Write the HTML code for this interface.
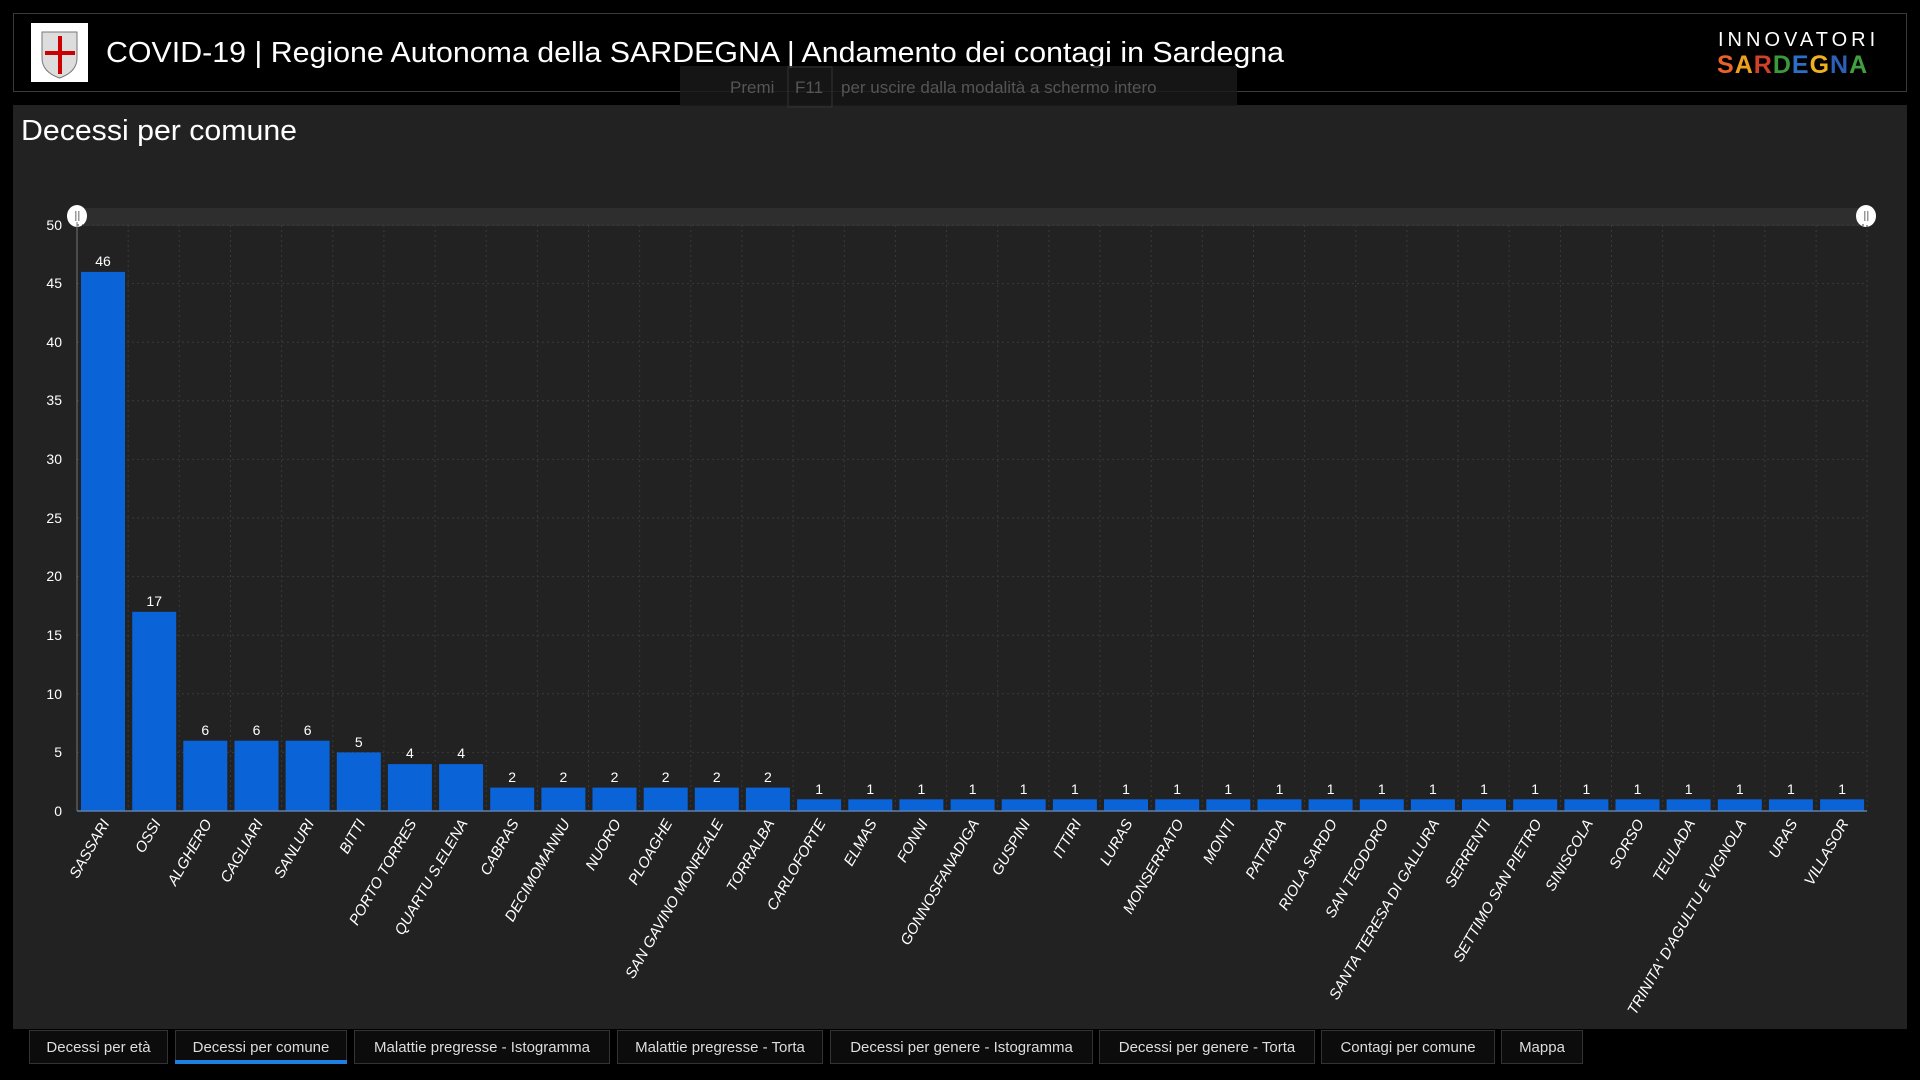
<!DOCTYPE html>
<html><head><meta charset="utf-8"><style>
html,body{margin:0;padding:0;background:#000;width:1920px;height:1080px;overflow:hidden;font-family:"Liberation Sans",sans-serif}
</style></head><body>
<svg width="1920" height="1080" viewBox="0 0 1920 1080" xmlns="http://www.w3.org/2000/svg" font-family="Liberation Sans, sans-serif">
<rect width="1920" height="1080" fill="#000"/>
<!-- header -->
<rect x="13.5" y="13.5" width="1893" height="78" fill="#000" stroke="#3a3a3a"/>
<rect x="31" y="23" width="57" height="59" fill="#fff"/>
<path d="M42 32 h35 v26 q0 14 -17.5 20 q-17.5 -6 -17.5 -20z" fill="#ddd" stroke="#777"/>
<rect x="58" y="36" width="4" height="38" fill="#c00"/><rect x="45" y="51" width="30" height="4" fill="#c00"/>
<text x="106" y="62" font-size="29" fill="#fff" textLength="1178" lengthAdjust="spacingAndGlyphs">COVID-19 | Regione Autonoma della SARDEGNA | Andamento dei contagi in Sardegna</text>
<text x="1718" y="46" font-size="20" fill="#fff" letter-spacing="4">INNOVATORI</text>
<text x="1717" y="73" font-size="25" font-weight="bold" letter-spacing="1"><tspan fill="#e8622a">S</tspan><tspan fill="#f0a020">A</tspan><tspan fill="#d0402a">R</tspan><tspan fill="#3a9a3a">D</tspan><tspan fill="#2a70c8">E</tspan><tspan fill="#f0b020">G</tspan><tspan fill="#2a60b8">N</tspan><tspan fill="#40a040">A</tspan></text>
<!-- panel -->
<rect x="13" y="105" width="1894" height="924" fill="#222"/>
<rect x="680" y="66" width="557" height="40" fill="#1a1a1a" opacity="0.8"/>
<rect x="788" y="67" width="44" height="40" fill="none" stroke="#333"/>
<text x="730" y="93" font-size="17" fill="#555">Premi</text><text x="795" y="93" font-size="17" fill="#555">F11</text><text x="841" y="93" font-size="17" fill="#555">per uscire dalla modalità a schermo intero</text>
<text x="21" y="140" font-size="29" fill="#fff" textLength="276" lengthAdjust="spacingAndGlyphs">Decessi per comune</text>
<!-- slider -->
<rect x="77" y="208" width="1790" height="18" fill="#2e2e2e"/>
<ellipse cx="77" cy="216" rx="10" ry="11" fill="#fff"/><rect x="75" y="211" width="1.5" height="10" fill="#999"/><rect x="78" y="211" width="1.5" height="10" fill="#999"/>
<ellipse cx="1866" cy="216" rx="10" ry="11" fill="#fff"/><rect x="1864" y="211" width="1.5" height="10" fill="#999"/><rect x="1867" y="211" width="1.5" height="10" fill="#999"/>
<!-- grid -->
<g stroke="#3a3a3a" stroke-width="1" stroke-dasharray="2,3">
<line x1="77" x2="1867" y1="225" y2="225"/><line x1="77" x2="1867" y1="283.6" y2="283.6"/><line x1="77" x2="1867" y1="342.2" y2="342.2"/><line x1="77" x2="1867" y1="400.8" y2="400.8"/><line x1="77" x2="1867" y1="459.4" y2="459.4"/><line x1="77" x2="1867" y1="518" y2="518"/><line x1="77" x2="1867" y1="576.6" y2="576.6"/><line x1="77" x2="1867" y1="635.2" y2="635.2"/><line x1="77" x2="1867" y1="693.8" y2="693.8"/><line x1="77" x2="1867" y1="752.4" y2="752.4"/>
<line x1="128.2" x2="128.2" y1="225" y2="811"/><line x1="179.3" x2="179.3" y1="225" y2="811"/><line x1="230.5" x2="230.5" y1="225" y2="811"/><line x1="281.6" x2="281.6" y1="225" y2="811"/><line x1="332.8" x2="332.8" y1="225" y2="811"/><line x1="383.9" x2="383.9" y1="225" y2="811"/><line x1="435.1" x2="435.1" y1="225" y2="811"/><line x1="486.2" x2="486.2" y1="225" y2="811"/><line x1="537.4" x2="537.4" y1="225" y2="811"/><line x1="588.5" x2="588.5" y1="225" y2="811"/><line x1="639.7" x2="639.7" y1="225" y2="811"/><line x1="690.8" x2="690.8" y1="225" y2="811"/><line x1="741.9" x2="741.9" y1="225" y2="811"/><line x1="793.1" x2="793.1" y1="225" y2="811"/><line x1="844.3" x2="844.3" y1="225" y2="811"/><line x1="895.4" x2="895.4" y1="225" y2="811"/><line x1="946.6" x2="946.6" y1="225" y2="811"/><line x1="997.7" x2="997.7" y1="225" y2="811"/><line x1="1048.9" x2="1048.9" y1="225" y2="811"/><line x1="1100" x2="1100" y1="225" y2="811"/><line x1="1151.2" x2="1151.2" y1="225" y2="811"/><line x1="1202.3" x2="1202.3" y1="225" y2="811"/><line x1="1253.5" x2="1253.5" y1="225" y2="811"/><line x1="1304.6" x2="1304.6" y1="225" y2="811"/><line x1="1355.8" x2="1355.8" y1="225" y2="811"/><line x1="1406.9" x2="1406.9" y1="225" y2="811"/><line x1="1458" x2="1458" y1="225" y2="811"/><line x1="1509.2" x2="1509.2" y1="225" y2="811"/><line x1="1560.4" x2="1560.4" y1="225" y2="811"/><line x1="1611.5" x2="1611.5" y1="225" y2="811"/><line x1="1662.6" x2="1662.6" y1="225" y2="811"/><line x1="1713.8" x2="1713.8" y1="225" y2="811"/><line x1="1764.9" x2="1764.9" y1="225" y2="811"/><line x1="1816.1" x2="1816.1" y1="225" y2="811"/><line x1="1867" x2="1867" y1="225" y2="811"/>
</g>
<line x1="77" x2="77" y1="222" y2="811" stroke="#777"/>
<!-- y labels -->
<g font-size="14" fill="#fff" text-anchor="end">
<text x="62" y="816">0</text><text x="62" y="757">5</text><text x="62" y="699">10</text><text x="62" y="640">15</text><text x="62" y="581">20</text><text x="62" y="523">25</text><text x="62" y="464">30</text><text x="62" y="405">35</text><text x="62" y="347">40</text><text x="62" y="288">45</text><text x="62" y="230">50</text>
</g>
<!-- bars -->
<g fill="#0b63d8">
<rect x="81" y="271.9" width="44" height="539.1"/><rect x="132.2" y="611.8" width="44" height="199.2"/><rect x="183.3" y="740.7" width="44" height="70.3"/><rect x="234.5" y="740.7" width="44" height="70.3"/><rect x="285.6" y="740.7" width="44" height="70.3"/><rect x="336.8" y="752.4" width="44" height="58.6"/><rect x="387.9" y="764.1" width="44" height="46.9"/><rect x="439.1" y="764.1" width="44" height="46.9"/>
<rect x="490.2" y="787.6" width="44" height="23.4"/><rect x="541.4" y="787.6" width="44" height="23.4"/><rect x="592.5" y="787.6" width="44" height="23.4"/><rect x="643.7" y="787.6" width="44" height="23.4"/><rect x="694.8" y="787.6" width="44" height="23.4"/><rect x="745.9" y="787.6" width="44" height="23.4"/>
<rect x="797.1" y="799.3" width="44" height="11.7"/><rect x="848.3" y="799.3" width="44" height="11.7"/><rect x="899.4" y="799.3" width="44" height="11.7"/><rect x="950.6" y="799.3" width="44" height="11.7"/><rect x="1001.7" y="799.3" width="44" height="11.7"/><rect x="1052.9" y="799.3" width="44" height="11.7"/><rect x="1104" y="799.3" width="44" height="11.7"/><rect x="1155.2" y="799.3" width="44" height="11.7"/><rect x="1206.3" y="799.3" width="44" height="11.7"/><rect x="1257.5" y="799.3" width="44" height="11.7"/><rect x="1308.6" y="799.3" width="44" height="11.7"/><rect x="1359.8" y="799.3" width="44" height="11.7"/><rect x="1410.9" y="799.3" width="44" height="11.7"/><rect x="1462" y="799.3" width="44" height="11.7"/><rect x="1513.2" y="799.3" width="44" height="11.7"/><rect x="1564.4" y="799.3" width="44" height="11.7"/><rect x="1615.5" y="799.3" width="44" height="11.7"/><rect x="1666.6" y="799.3" width="44" height="11.7"/><rect x="1717.8" y="799.3" width="44" height="11.7"/><rect x="1768.9" y="799.3" width="44" height="11.7"/><rect x="1820.1" y="799.3" width="44" height="11.7"/>
</g>
<line x1="77" x2="1867" y1="811" y2="811" stroke="#5a7fb0" stroke-width="1.5"/>
<!-- value labels -->
<g font-size="14" fill="#fff" text-anchor="middle">
<text x="103" y="266">46</text><text x="154.2" y="606">17</text><text x="205.3" y="735">6</text><text x="256.5" y="735">6</text><text x="307.6" y="735">6</text><text x="358.8" y="747">5</text><text x="409.9" y="758">4</text><text x="461.1" y="758">4</text>
<text x="512.2" y="782">2</text><text x="563.4" y="782">2</text><text x="614.5" y="782">2</text><text x="665.7" y="782">2</text><text x="716.8" y="782">2</text><text x="767.9" y="782">2</text>
<text x="819.1" y="794">1</text><text x="870.3" y="794">1</text><text x="921.4" y="794">1</text><text x="972.6" y="794">1</text><text x="1023.7" y="794">1</text><text x="1074.9" y="794">1</text><text x="1126" y="794">1</text><text x="1177.2" y="794">1</text><text x="1228.3" y="794">1</text><text x="1279.5" y="794">1</text><text x="1330.6" y="794">1</text><text x="1381.8" y="794">1</text><text x="1432.9" y="794">1</text><text x="1484" y="794">1</text><text x="1535.2" y="794">1</text><text x="1586.4" y="794">1</text><text x="1637.5" y="794">1</text><text x="1688.6" y="794">1</text><text x="1739.8" y="794">1</text><text x="1790.9" y="794">1</text><text x="1842.1" y="794">1</text>
</g>
<!-- x labels -->
<g font-size="15" fill="#fff" font-style="italic" text-anchor="end">
<text transform="translate(110,823) rotate(-60)">SASSARI</text>
<text transform="translate(161.2,823) rotate(-60)">OSSI</text>
<text transform="translate(212.3,823) rotate(-60)">ALGHERO</text>
<text transform="translate(263.5,823) rotate(-60)">CAGLIARI</text>
<text transform="translate(314.6,823) rotate(-60)">SANLURI</text>
<text transform="translate(365.8,823) rotate(-60)">BITTI</text>
<text transform="translate(416.9,823) rotate(-60)">PORTO TORRES</text>
<text transform="translate(468.1,823) rotate(-60)">QUARTU S.ELENA</text>
<text transform="translate(519.2,823) rotate(-60)">CABRAS</text>
<text transform="translate(570.4,823) rotate(-60)">DECIMOMANNU</text>
<text transform="translate(621.5,823) rotate(-60)">NUORO</text>
<text transform="translate(672.7,823) rotate(-60)">PLOAGHE</text>
<text transform="translate(723.8,823) rotate(-60)">SAN GAVINO MONREALE</text>
<text transform="translate(774.9,823) rotate(-60)">TORRALBA</text>
<text transform="translate(826.1,823) rotate(-60)">CARLOFORTE</text>
<text transform="translate(877.3,823) rotate(-60)">ELMAS</text>
<text transform="translate(928.4,823) rotate(-60)">FONNI</text>
<text transform="translate(979.6,823) rotate(-60)">GONNOSFANADIGA</text>
<text transform="translate(1030.7,823) rotate(-60)">GUSPINI</text>
<text transform="translate(1081.9,823) rotate(-60)">ITTIRI</text>
<text transform="translate(1133,823) rotate(-60)">LURAS</text>
<text transform="translate(1184.2,823) rotate(-60)">MONSERRATO</text>
<text transform="translate(1235.3,823) rotate(-60)">MONTI</text>
<text transform="translate(1286.5,823) rotate(-60)">PATTADA</text>
<text transform="translate(1337.6,823) rotate(-60)">RIOLA SARDO</text>
<text transform="translate(1388.8,823) rotate(-60)">SAN TEODORO</text>
<text transform="translate(1439.9,823) rotate(-60)">SANTA TERESA DI GALLURA</text>
<text transform="translate(1491,823) rotate(-60)">SERRENTI</text>
<text transform="translate(1542.2,823) rotate(-60)">SETTIMO SAN PIETRO</text>
<text transform="translate(1593.4,823) rotate(-60)">SINISCOLA</text>
<text transform="translate(1644.5,823) rotate(-60)">SORSO</text>
<text transform="translate(1695.6,823) rotate(-60)">TEULADA</text>
<text transform="translate(1746.8,823) rotate(-60)">TRINITA' D'AGULTU E VIGNOLA</text>
<text transform="translate(1797.9,823) rotate(-60)">URAS</text>
<text transform="translate(1849.1,823) rotate(-60)">VILLASOR</text>
</g>
<!-- tabs -->
<g font-size="15" fill="#ddd" text-anchor="middle">
<rect x="29.5" y="1030.5" width="138" height="33" fill="#0c0c0c" stroke="#333"/><text x="98.5" y="1052">Decessi per età</text>
<rect x="175.5" y="1030.5" width="171" height="33" fill="#0c0c0c" stroke="#333"/><rect x="175" y="1060" width="172" height="4" fill="#1e7fe0"/><text x="261" y="1052">Decessi per comune</text>
<rect x="354.5" y="1030.5" width="255" height="33" fill="#0c0c0c" stroke="#333"/><text x="482" y="1052">Malattie pregresse - Istogramma</text>
<rect x="617.5" y="1030.5" width="205" height="33" fill="#0c0c0c" stroke="#333"/><text x="720" y="1052">Malattie pregresse - Torta</text>
<rect x="830.5" y="1030.5" width="262" height="33" fill="#0c0c0c" stroke="#333"/><text x="961.5" y="1052">Decessi per genere - Istogramma</text>
<rect x="1099.5" y="1030.5" width="215" height="33" fill="#0c0c0c" stroke="#333"/><text x="1207" y="1052">Decessi per genere - Torta</text>
<rect x="1321.5" y="1030.5" width="173" height="33" fill="#0c0c0c" stroke="#333"/><text x="1408" y="1052">Contagi per comune</text>
<rect x="1501.5" y="1030.5" width="81" height="33" fill="#0c0c0c" stroke="#333"/><text x="1542" y="1052">Mappa</text>
</g>
</svg>
</body></html>
